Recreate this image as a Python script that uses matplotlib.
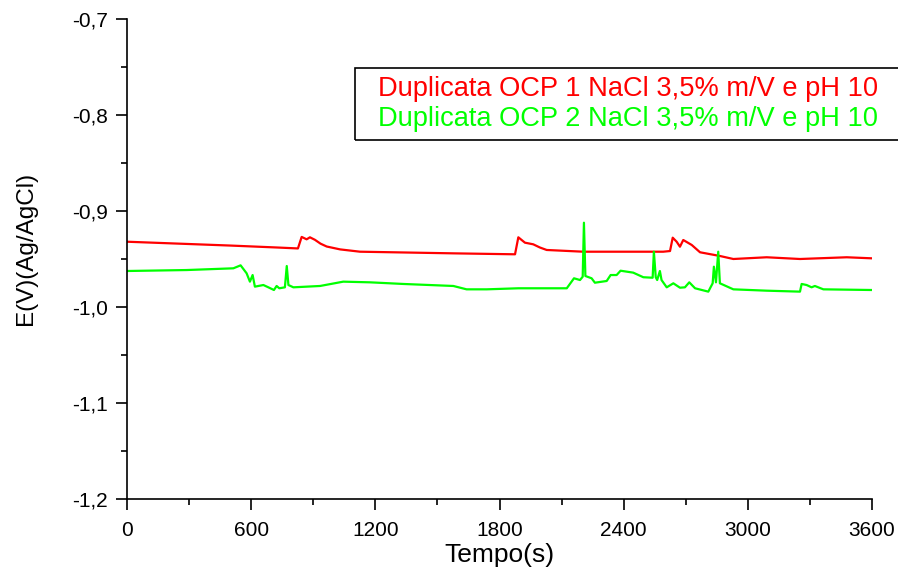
import matplotlib.pyplot as plt
from matplotlib.patches import Rectangle
from matplotlib.ticker import MultipleLocator, FuncFormatter

plt.rcParams["font.family"] = ["Liberation Sans", "DejaVu Sans"]

# OCP readings, duplicate 1 (time in s, potential in V vs Ag/AgCl)
t_ocp1 = [0, 250, 500, 723, 826, 844, 868, 884, 908, 935, 965, 1030, 1126, 1575, 1875, 1891,
          1923, 1963, 1995, 2028, 2205, 2591, 2624, 2637, 2656, 2672, 2688, 2729, 2769, 2866,
          2930, 3091, 3252, 3478, 3600]
e_ocp1 = [-0.932, -0.934, -0.936, -0.938, -0.939, -0.927, -0.9295, -0.9274, -0.930, -0.934,
          -0.937, -0.940, -0.9424, -0.9441, -0.9451, -0.9274, -0.933, -0.9347, -0.938, -0.9406,
          -0.9424, -0.9424, -0.9417, -0.9278, -0.932, -0.9372, -0.9302, -0.9354, -0.943, -0.9469,
          -0.950, -0.9482, -0.950, -0.9482, -0.9493]

# OCP readings, duplicate 2
t_ocp2 = [0, 288, 514, 549, 578, 594, 607, 618, 659, 683, 710, 723, 736, 763, 772, 780, 804,
          933, 1045, 1174, 1335, 1577, 1641, 1738, 1891, 2125, 2160, 2189, 2202, 2208, 2215,
          2245, 2261, 2318, 2337, 2366, 2385, 2446, 2495, 2540, 2546, 2555, 2562, 2575, 2583,
          2608, 2640, 2672, 2696, 2717, 2745, 2809, 2830, 2836, 2846, 2857, 2865, 2930, 3091,
          3252, 3260, 3284, 3308, 3324, 3365, 3600]
e_ocp2 = [-0.9625, -0.9615, -0.9597, -0.9566, -0.9649, -0.9736, -0.9667, -0.9788, -0.9771,
          -0.9795, -0.9823, -0.9781, -0.9805, -0.9795, -0.9573, -0.9771, -0.9795,
          -0.9781, -0.9736, -0.9743, -0.976, -0.9781, -0.9816, -0.9816, -0.9805, -0.9805, -0.9701,
          -0.9719, -0.9685, -0.9122, -0.9677, -0.9701, -0.9747, -0.9729, -0.9667, -0.9667,
          -0.9622, -0.9642, -0.969, -0.9695, -0.9424, -0.969, -0.9719, -0.9625, -0.9719,
          -0.9795, -0.9753, -0.9799, -0.9795, -0.9743, -0.9805, -0.984, -0.9753, -0.958, -0.9743,
          -0.9424, -0.9753, -0.9816, -0.983, -0.984, -0.976, -0.9771, -0.9795, -0.9781, -0.9816,
          -0.9823]

labels = ["Duplicata OCP 1 NaCl 3,5% m/V e pH 10",
          "Duplicata OCP 2 NaCl 3,5% m/V e pH 10"]
colors = ["#ff0000", "#00ff00"]

W, H = 898, 573
fig = plt.figure(figsize=(W / 100, H / 100), dpi=100)
ax = fig.add_axes([127 / W, 1 - 499 / H, 745 / W, 480 / H])

ax.plot(t_ocp1, e_ocp1, color=colors[0], lw=1.6)
ax.plot(t_ocp2, e_ocp2, color=colors[1], lw=1.6)

ax.set_xlim(0, 3600)
ax.set_ylim(-1.2, -0.7)
ax.xaxis.set_major_locator(MultipleLocator(600))
ax.xaxis.set_minor_locator(MultipleLocator(300))
ax.yaxis.set_major_locator(MultipleLocator(0.1))
ax.yaxis.set_minor_locator(MultipleLocator(0.05))
ax.yaxis.set_major_formatter(FuncFormatter(lambda v, p: f"{v:.1f}".replace(".", ",")))

for side in ("top", "right"):
    ax.spines[side].set_visible(False)
for side in ("left", "bottom"):
    ax.spines[side].set_linewidth(1.2)
ax.tick_params(which="major", direction="out", length=8, width=1.2)
ax.tick_params(which="minor", direction="out", length=4, width=1.2)
ax.tick_params(axis="y", pad=6, labelsize=15)
ax.tick_params(axis="x", pad=8, labelsize=15)

ax.set_xlabel("Tempo(s)", fontsize=19, labelpad=2)
ax.set_ylabel("E(V)(Ag/AgCl)", fontsize=17.5)
ax.yaxis.set_label_coords(-0.121, 0.523)

# legend box: coloured text only, frame runs off the right edge
fig.patches.append(Rectangle((355 / W, 1 - 140 / H), 560 / W, 72 / H,
                             transform=fig.transFigure, fill=False,
                             edgecolor="black", lw=1.2, clip_on=False))
for i, (lab, c) in enumerate(zip(labels, colors)):
    fig.text(378 / W, 1 - (89 + 30 * i) / H, lab, color=c, fontsize=19.6,
             ha="left", va="center")

fig.savefig("out.png", dpi=100)
